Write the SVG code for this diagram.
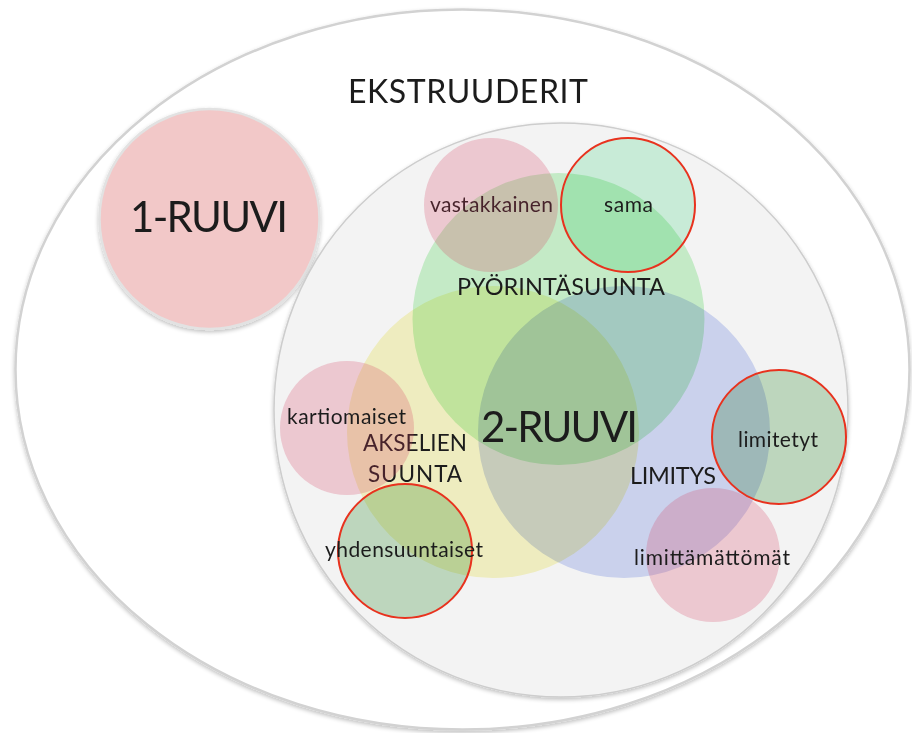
<svg xmlns="http://www.w3.org/2000/svg" width="912" height="733" viewBox="0 0 912 733">
<defs>
<filter id="sh" x="-10%" y="-10%" width="120%" height="120%">
<feGaussianBlur in="SourceAlpha" stdDeviation="2"/>
<feOffset dx="0" dy="2" result="b"/>
<feComponentTransfer><feFuncA type="linear" slope="0.25"/></feComponentTransfer>
<feMerge><feMergeNode/><feMergeNode in="SourceGraphic"/></feMerge>
</filter>
<style>
text{font-family:Lato,"Liberation Sans",sans-serif;fill:#1c1c1c;text-anchor:middle}
.mul{mix-blend-mode:multiply;stroke:none}
.pink{fill:#d53b5d;fill-opacity:0.234;stroke:none}
.sel{stroke:#e8321e;stroke-width:2}
.sm{font-size:21px}
.mid{font-size:23.5px}
</style>
</defs>
<g id="ekstruuderit">
<ellipse cx="462.5" cy="369.5" rx="447" ry="360" fill="#ffffff" stroke="#d2d2d2" stroke-width="2.5" filter="url(#sh)"/>
<text x="468" y="103" font-size="32" textLength="240">EKSTRUUDERIT</text>
</g>
<g id="ruuvi1">
<circle cx="209.5" cy="219" r="110" fill="#f2c8c8" stroke="#e2e2e2" stroke-width="2.5" filter="url(#sh)"/>
<text x="209" y="232" font-size="42" textLength="158">1-RUUVI</text>
</g>
<g id="ruuvi2-alue">
<circle cx="561" cy="410" r="287" fill="#f3f3f3" stroke="#cdcdcd" stroke-width="1.5" filter="url(#sh)"/>
</g>
<g id="akselien-suunta">
<circle class="mul" cx="493" cy="432" r="146" fill="#faf8c9"/>
</g>
<g id="limitys">
<circle class="mul" cx="624" cy="432" r="146" fill="#d4dcf8"/>
</g>
<g id="pyorintasuunta">
<circle class="mul" cx="558.5" cy="319" r="146" fill="#cef6d0"/>
</g>
<g id="labels">
<text class="mid" x="561" y="295" textLength="208">PYÖRINTÄSUUNTA</text>
<text x="415" y="451" font-size="22.5" textLength="104">AKSELIEN</text>
<text x="415" y="482" font-size="22.5" textLength="94">SUUNTA</text>
<text class="mid" x="673" y="484" textLength="86">LIMITYS</text>
<text x="559.5" y="442" font-size="42" textLength="157">2-RUUVI</text>
<text class="sm" x="491.5" y="212" textLength="123">vastakkainen</text>
</g>
<g id="vastakkainen">
<circle class="pink" cx="491" cy="205" r="67"/>
</g>
<g id="sama">
<circle class="mul" cx="628" cy="205" r="67" fill="#d2f7e2"/>
<circle class="sel" cx="628" cy="205" r="67" fill="none"/>
<text class="sm" x="628.5" y="212" textLength="49">sama</text>
</g>
<g id="kartiomaiset">
<circle class="pink" cx="347" cy="428" r="67"/>
<text class="sm" x="346.5" y="424" textLength="119">kartiomaiset</text>
</g>
<g id="yhdensuuntaiset">
<circle class="mul" cx="405" cy="551" r="67" fill="#c7e1c7"/>
<circle class="sel" cx="405" cy="551" r="67" fill="none"/>
<text class="sm" x="404" y="557" textLength="158">yhdensuuntaiset</text>
</g>
<g id="limitetyt">
<circle class="mul" cx="779" cy="437" r="67" fill="#c7e1c7"/>
<circle class="sel" cx="779" cy="437" r="67" fill="none"/>
<text class="sm" x="778" y="447" textLength="80">limitetyt</text>
</g>
<g id="limittamattomat">
<circle class="pink" cx="713" cy="555" r="67"/>
<text class="sm" x="712" y="565" textLength="156">limittämättömät</text>
</g>
</svg>
